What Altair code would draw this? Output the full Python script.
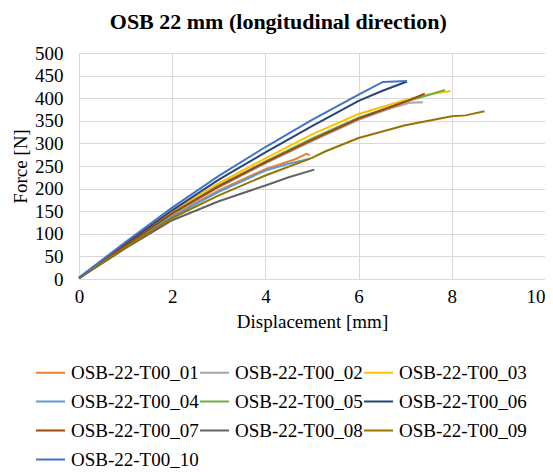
import altair as alt
import pandas as pd

names = ["OSB-22-T00_01", "OSB-22-T00_02", "OSB-22-T00_03", "OSB-22-T00_04", "OSB-22-T00_05",
         "OSB-22-T00_06", "OSB-22-T00_07", "OSB-22-T00_08", "OSB-22-T00_09", "OSB-22-T00_10"]
colors = ["#ED7D31", "#A5A5A5", "#FFC000", "#5B9BD5", "#70AD47",
          "#264478", "#9E480E", "#636363", "#997300", "#4472C4"]

x01 = [0, 1, 2, 3, 4, 4.64, 4.8, 4.88, 4.95]
y01 = [2, 72, 140, 196, 243, 265, 273, 277, 274]
x02 = [0, 1, 2, 3, 4, 5, 6, 6.7, 7.1, 7.38]
y02 = [2, 74, 143, 203, 256, 305, 352, 378, 390, 391]
x03 = [0, 1, 2, 3, 4, 5, 6, 7, 7.5, 7.97]
y03 = [2, 76, 148, 212, 267, 320, 365, 396, 408, 416]
x04 = [0, 1, 2, 3, 4, 4.5, 4.95]
y04 = [2, 71, 138, 193, 240, 255, 266]
x05 = [0, 1, 2, 3, 4, 5, 6, 7, 7.5, 7.85]
y05 = [2, 75, 145, 207, 260, 311, 357, 392, 407, 418]
x06 = [0, 1, 2, 3, 4, 5, 6, 6.5, 7.04]
y06 = [2, 78, 152, 220, 280, 338, 394, 416, 437]
x07 = [0, 1, 2, 3, 4, 5, 6, 7, 7.42]
y07 = [2, 74, 145, 205, 258, 308, 355, 392, 410]
x08 = [0, 1, 2, 3, 4, 4.5, 5.05]
y08 = [2, 68, 130, 172, 207, 225, 242]
x09 = [0, 1, 2, 3, 4, 5, 5.28, 6, 7, 7.5, 8, 8.3, 8.7]
y09 = [2, 70, 135, 185, 229, 268, 282, 312, 340, 350, 360, 362, 371]
x10 = [0, 1, 2, 3, 4, 5, 6, 6.52, 7.04]
y10 = [3, 82, 158, 228, 292, 352, 408, 436, 438]

xs = [x01, x02, x03, x04, x05, x06, x07, x08, x09, x10]
ys = [y01, y02, y03, y04, y05, y06, y07, y08, y09, y10]

rows = []
for n, xv, yv in zip(names, xs, ys):
    for i, (a, b) in enumerate(zip(xv, yv)):
        rows.append({"series": n, "disp": a, "force": b, "idx": i})
df = pd.DataFrame(rows)

FONT = "Liberation Serif, Times New Roman, DejaVu Serif, serif"

chart = alt.Chart(df).mark_line(strokeWidth=2).encode(
    x=alt.X("disp:Q", title="Displacement [mm]",
            scale=alt.Scale(domain=[0, 10], nice=False),
            axis=alt.Axis(values=[0, 2, 4, 6, 8, 10], labelPadding=8, titlePadding=6,
                          labelFlush=False,
                          labelAlign={"condition": {"test": "datum.value == 10", "value": "right"},
                                      "value": "center"})),
    y=alt.Y("force:Q", title="Force [N]",
            scale=alt.Scale(domain=[0, 500], nice=False),
            axis=alt.Axis(values=list(range(0, 501, 50)), labelPadding=16, titlePadding=4,
                          labelFlush=False)),
    color=alt.Color("series:N", scale=alt.Scale(domain=names, range=colors),
                    legend=alt.Legend(title=None, orient="none", legendX=-44, legendY=304,
                                      direction="horizontal",
                                      columns=3, symbolType="stroke", symbolSize=841,
                                      symbolStrokeWidth=2, labelOffset=5, rowPadding=3,
                                      columnPadding=-3, gridAlign="all", padding=0)),
    order="idx:Q",
).properties(
    width=466, height=226,
    title=alt.TitleParams("OSB 22 mm (longitudinal direction)", fontSize=22, font=FONT,
                          fontWeight="bold", frame="bounds", anchor="middle", offset=10),
    padding={"left": 3, "top": 3, "right": 0, "bottom": 0},
).configure_axis(
    labelFont=FONT, titleFont=FONT, labelFontSize=19, titleFontSize=19,
    titleFontWeight="normal", labelColor="#000", titleColor="#000",
    gridColor="#d9d9d9", domainColor="#d9d9d9", ticks=False,
).configure_legend(
    labelFont=FONT, labelFontSize=19, labelColor="#000", labelLimit=220,
).configure_view(stroke="#d9d9d9")

chart.save("out.html", embed_options={"renderer": "svg", "actions": False})
